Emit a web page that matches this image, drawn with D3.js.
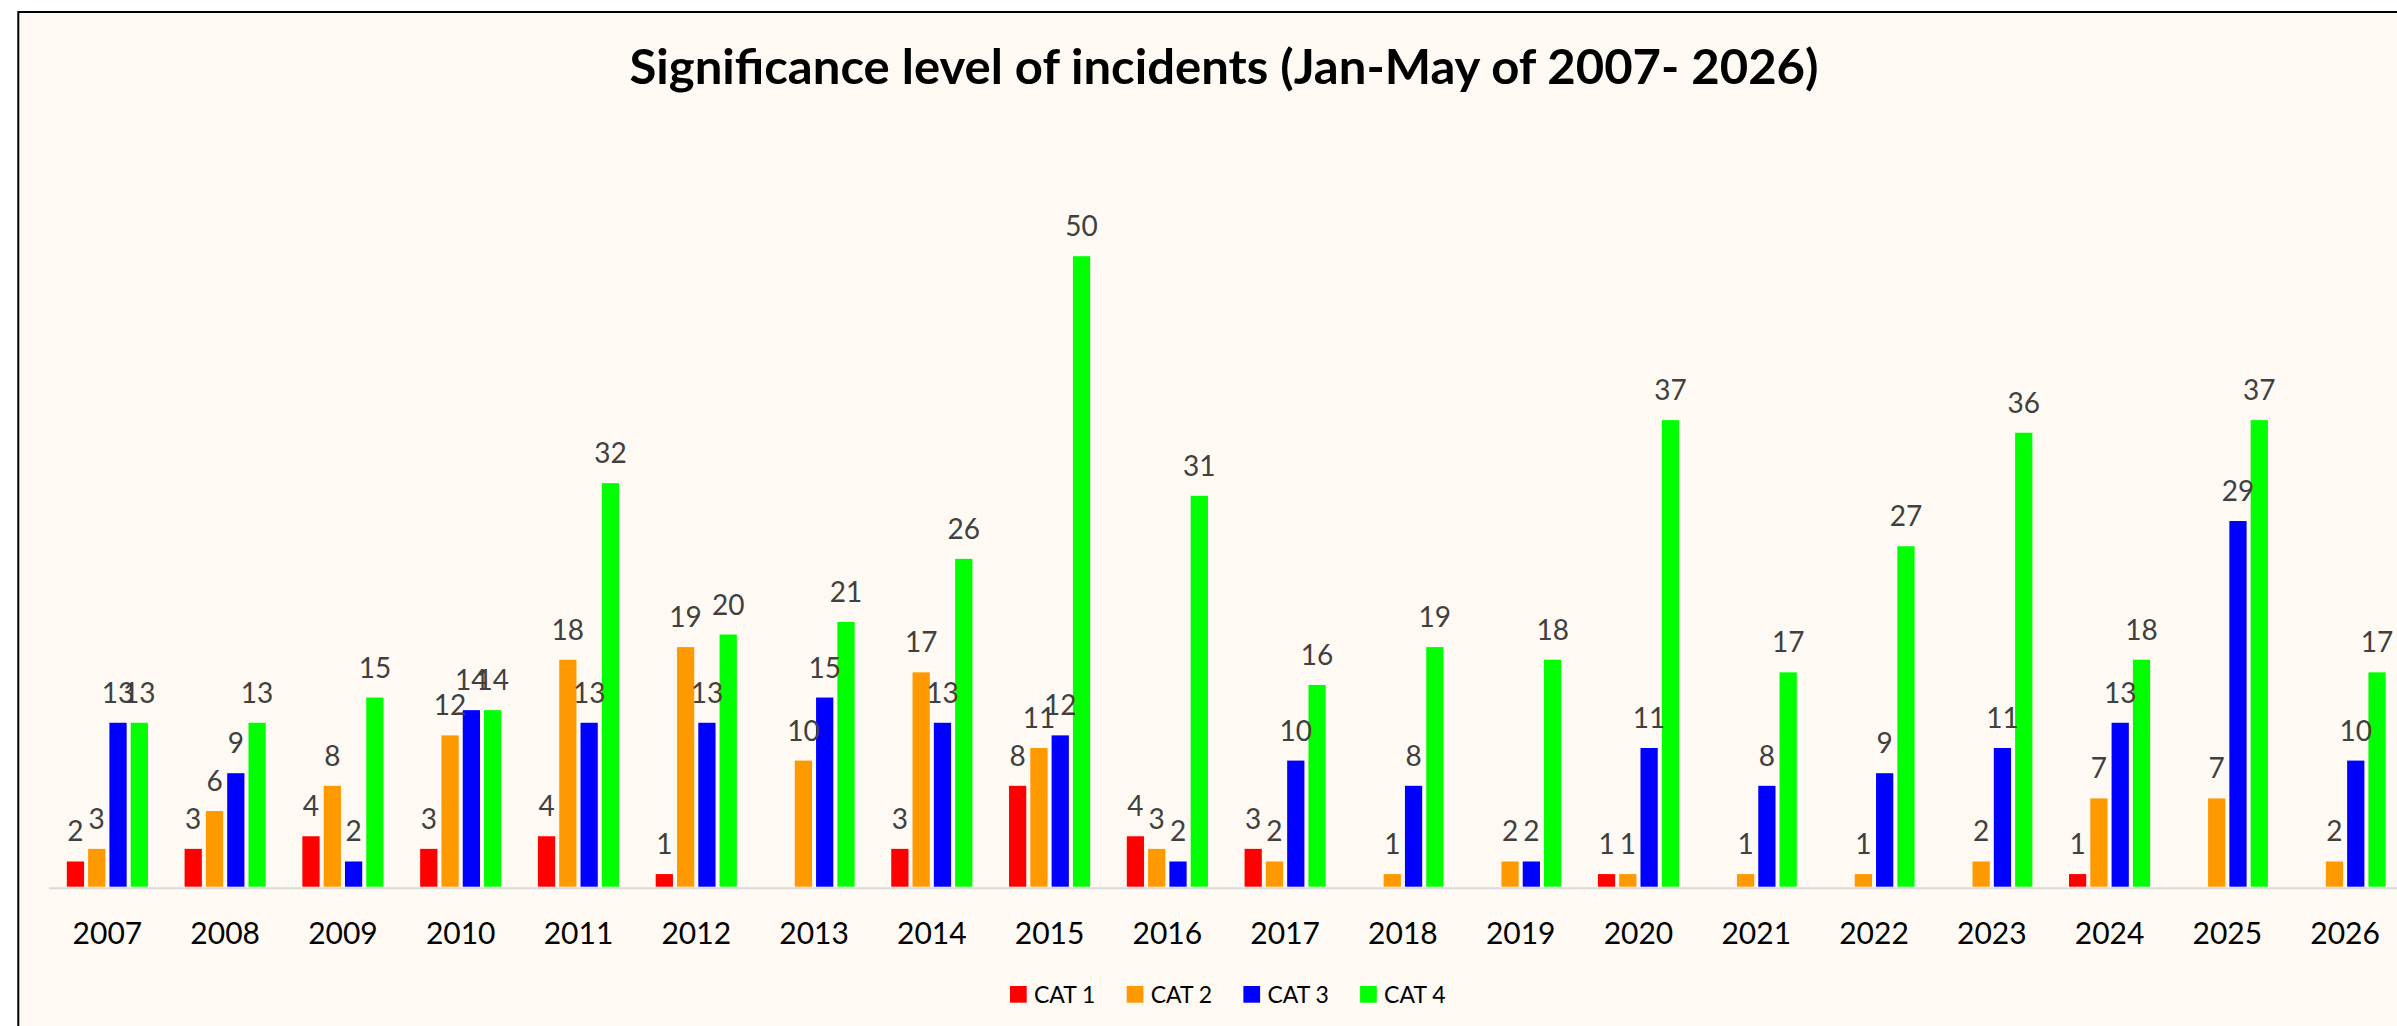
<!DOCTYPE html>
<html>
<head>
<meta charset="utf-8">
<script src="https://cdn.jsdelivr.net/npm/d3@7"></script>
<style>
  body { margin: 0; background: #ffffff; }
  svg { display: block; font-family: Lato, 'Open Sans', sans-serif; }
</style>
</head>
<body>
<div id="chart"></div>
<script>
// data (null = no incidents, no bar / no label)
const years = ['2007', '2008', '2009', '2010', '2011', '2012', '2013', '2014', '2015', '2016',
  '2017', '2018', '2019', '2020', '2021', '2022', '2023', '2024', '2025', '2026'];
const categories = ['CAT 1', 'CAT 2', 'CAT 3', 'CAT 4'];
const colors = ['#ff0000', '#ff9900', '#0000ff', '#00ff00'];

const cat1 = [2, 3, 4, 3, 4, 1, null, 3, 8, 4, 3, null, null, 1, null, null, null, 1, null, null];
const cat2 = [3, 6, 8, 12, 18, 19, 10, 17, 11, 3, 2, 1, 2, 1, 1, 1, 2, 7, 7, 2];
const cat3 = [13, 9, 2, 14, 13, 13, 15, 13, 12, 2, 10, 8, 2, 11, 8, 9, 11, 13, 29, 10];
const cat4 = [13, 13, 15, 14, 32, 20, 21, 26, 50, 31, 16, 19, 18, 37, 17, 27, 36, 18, 37, 17];

const title = 'Significance level of incidents (Jan-May of 2007- 2026)';

const width = 2397;
const height = 1026;
const series = [cat1, cat2, cat3, cat4];

// set up SVG container
const svg = d3.select('#chart')
  .append('svg')
  .attr('width', width)
  .attr('height', height);

// chart frame (runs off the right and bottom of the picture)
svg.append('rect')
  .attr('x', 18.3)
  .attr('y', 12)
  .attr('width', width + 20)
  .attr('height', height + 20)
  .attr('fill', '#fefaf3')
  .attr('stroke', '#000000')
  .attr('stroke-width', 2);

// title
svg.append('text')
  .attr('x', 1224)
  .attr('y', 83.5)
  .attr('text-anchor', 'middle')
  .attr('font-size', 48)
  .attr('font-weight', 700)
  .attr('fill', '#000000')
  .attr('textLength', 1189)
  .attr('lengthAdjust', 'spacingAndGlyphs')
  .text(title);

// scales
const baseY = 886.7;
const x = d3.scaleBand()
  .domain(years)
  .range([48.5, 2404])
  .paddingInner(0)
  .paddingOuter(0);

const xInner = d3.scaleBand()
  .domain(categories)
  .range([0, x.bandwidth()])
  .paddingInner(0.19)
  .paddingOuter(0.86);

const y = d3.scaleLinear()
  .domain([0, 60])
  .range([baseY, baseY - 60 * 12.61]);

// flatten values for drawing
const bars = [];
years.forEach((yr, i) => {
  categories.forEach((c, j) => {
    if (series[j][i] != null) {
      bars.push({ year: yr, cat: c, idx: j, value: series[j][i] });
    }
  });
});

// bars
svg.append('g').selectAll('rect')
  .data(bars)
  .enter().append('rect')
  .attr('x', (d) => x(d.year) + xInner(d.cat))
  .attr('y', (d) => y(d.value))
  .attr('width', xInner.bandwidth())
  .attr('height', (d) => y(0) - y(d.value))
  .attr('fill', (d) => colors[d.idx]);

// x axis
const axis = svg.append('g')
  .attr('transform', 'translate(0,' + (baseY + 1) + ')')
  .call(d3.axisBottom(x).tickSize(0).tickSizeOuter(0));

axis.select('.domain')
  .attr('stroke', '#d9d9d9')
  .attr('stroke-width', 2);

axis.selectAll('.tick text')
  .attr('y', 56)
  .attr('dy', 0)
  .attr('font-size', 30)
  .attr('font-family', 'Lato, sans-serif')
  .attr('fill', '#000000');

// data labels
svg.append('g').selectAll('text')
  .data(bars)
  .enter().append('text')
  .attr('x', (d) => x(d.year) + xInner(d.cat) + xInner.bandwidth() / 2)
  .attr('y', (d) => y(d.value) - 20)
  .attr('text-anchor', 'middle')
  .attr('font-size', 28)
  .attr('fill', '#404040')
  .text((d) => d.value);

// legend
const legend = svg.append('g')
  .selectAll('g')
  .data(categories)
  .enter().append('g')
  .attr('transform', (d, i) => 'translate(' + (1010 + i * 116.7) + ',986)');

legend.append('rect')
  .attr('width', 16.7)
  .attr('height', 16.7)
  .attr('fill', (d, i) => colors[i]);

legend.append('text')
  .attr('x', 24)
  .attr('y', 17.3)
  .attr('font-size', 23)
  .attr('fill', '#000000')
  .text((d) => d);
</script>
</body>
</html>
